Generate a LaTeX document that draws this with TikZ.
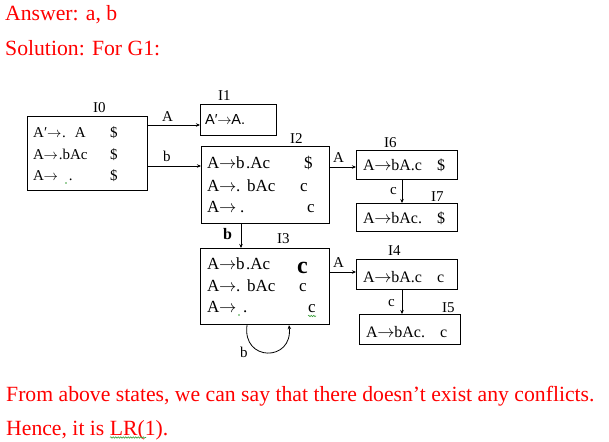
\documentclass[tikz,border=0pt]{standalone}
\usepackage{fontspec}
\setmainfont{Liberation Serif}
\newfontfamily\lsans{Liberation Sans}
\usetikzlibrary{arrows.meta,decorations.pathmorphing}
\definecolor{pured}{RGB}{255,0,0}
\definecolor{sqgreen}{RGB}{60,160,60}
\newcommand\ra{\kern-0.3pt$\rightarrow$\kern-0.3pt}
\begin{document}
\begin{tikzpicture}[x=1pt,y=-1pt,
  redtxt/.style={anchor=base west,inner sep=0pt,text=pured,font=\fontsize{21.7}{26}\selectfont},
  box/.style={draw,line width=1.2pt,anchor=north west,inner sep=0pt},
  itm/.style={anchor=base west,inner sep=0pt,font=\fontsize{16}{18}\selectfont},
  itmS/.style={anchor=base west,inner sep=0pt,font=\fontsize{15}{18}\selectfont},
  itmL/.style={anchor=base west,inner sep=0pt,font=\fontsize{17}{18}\selectfont},
  lbl/.style={anchor=base west,inner sep=0pt,font=\fontsize{15}{18}\selectfont},
  arr/.style={line width=0.8pt,-{Stealth[length=4pt,width=3.5pt]}},
  squig/.style={sqgreen,line width=0.6pt,decorate,decoration={snake,amplitude=0.7pt,segment length=2.5pt}}]
\path[use as bounding box] (0,0) rectangle (609,441);

% red texts
\node[redtxt] (t1) at (5,21) {Answer: a, b};
\node[redtxt] (t2) at (5,56) {Solution: For G1:};
\node[redtxt] (t3) at (6,401) {From above states, we can say that there doesn’t exist any conflicts.};
\node[redtxt] (t4) at (6,435) {Hence, it is LR(1).};

% boxes
\node[box,minimum width=120pt,minimum height=74pt] (I0) at (27,116) {};
\node[box,minimum width=76pt,minimum height=31pt] (I1) at (200,104) {};
\node[box,minimum width=128pt,minimum height=77pt] (I2) at (201,146) {};
\node[box,minimum width=101pt,minimum height=29pt] (I6) at (356,150) {};
\node[box,minimum width=101pt,minimum height=28pt] (I7) at (356,203) {};
\node[box,minimum width=129pt,minimum height=76pt] (I3) at (200,248) {};
\node[box,minimum width=101pt,minimum height=30pt] (I4) at (356,259) {};
\node[box,minimum width=101pt,minimum height=30pt] (I5) at (359,314) {};

% box labels
\node[lbl] (L0) at (93,112) {I0};
\node[lbl] (L1) at (218,100) {I1};
\node[lbl] (L2) at (290,143) {I2};
\node[lbl] (L6) at (384,147) {I6};
\node[lbl] (L7) at (431,201) {I7};
\node[lbl] (L3) at (277,243) {I3};
\node[lbl] (L4) at (388,255) {I4};
\node[lbl] (L5) at (442,312) {I5};

% I0 items
\node[itmS] (a01) at (33,137) {A′\ra\kern1pt. \kern4pt A};
\node[itmS] (a02) at (33,159) {A\ra\kern1pt.bAc};
\node[itmS] (a03) at (33,180) {A\ra\kern11pt.};
\node[itmS] (s01) at (110,137) {\$};
\node[itmS] (s02) at (110,159) {\$};
\node[itmS] (s03) at (110,180) {\$};
% I1
\node[itm,font=\lsans\fontsize{14.5}{17}\selectfont] (a11) at (205,124) {A′\ra A.};
% I2
\node[itmL] (a21) at (207,168) {A\ra b\kern1.5pt.Ac};
\node[itmL] (a22) at (207,191) {A\ra. \kern1pt bAc};
\node[itmL] (a23) at (207,212) {A\ra\kern4pt.};
\node[itmL] (s21) at (304,168) {\$};
\node[itmL] (s22) at (300,191) {c};
\node[itmL] (s23) at (307,212) {c};
% I6, I7
\node[itm] (a61) at (363,170) {A\ra bA.c};
\node[itm] (s61) at (437,170) {\$};
\node[itm] (a71) at (363,223) {A\ra bAc.};
\node[itm] (s71) at (437,223) {\$};
% I3
\node[itmL] (a31) at (207,269) {A\ra b\kern1.5pt.Ac};
\node[itmL] (a32) at (207,291) {A\ra. \kern1pt bAc};
\node[itmL] (a33) at (207,312) {A\ra\kern7pt.};
\node[itm,font=\bfseries\fontsize{24}{26}\selectfont] (s31) at (297,273) {c};
\node[itmL] (s32) at (299,291) {c};
\node[itmL] (s33) at (308,312) {c};
% I4, I5
\node[itm] (a41) at (363,282) {A\ra bA.c};
\node[itm] (s41) at (437,282) {c};
\node[itm] (a51) at (366,337) {A\ra bAc.};
\node[itm] (s51) at (440,337) {c};

% green spell-check marks
\fill[sqgreen] (66,183) circle (0.8pt);
\fill[sqgreen] (239,315) circle (0.8pt);
\draw[squig] (308,316) -- (316,316);

% connectors
\draw[arr] (I0.east |- 0,125) -- (I1.west |- 0,125);
\draw[arr] (I0.east |- 0,166) -- (I2.west |- 0,166);
\draw[arr] (I2.east |- 0,167) -- (I6.west |- 0,167);
\draw[arr] (I6.south -| 402,0) -- (I7.north -| 402,0);
\draw[arr] (I2.south -| 241,0) -- (I3.north -| 241,0);
\draw[arr] (I3.east |- 0,272) -- (I4.west |- 0,272);
\draw[arr] (I4.south -| 402,0) -- (I5.north -| 402,0);
\draw[arr] (I3.south -| 247,0) .. controls (242,362) and (293,362) .. (I3.south -| 289,0);

% connector labels
\node[lbl] (cA1) at (162,121) {A};
\node[lbl] (cb1) at (163,161) {b};
\node[lbl] (cA2) at (333,162) {A};
\node[lbl] (cc1) at (390,194) {c};
\node[lbl,font=\bfseries\fontsize{16}{18}\selectfont] (cb2) at (223,239) {b};
\node[lbl] (cA3) at (333,267) {A};
\node[lbl] (cc2) at (388,306) {c};
\node[lbl] (cb3) at (240,357) {b};

% squiggle under LR(1)
\draw[squig] (110,437.5) -- (146,437.5);
\end{tikzpicture}
\end{document}
